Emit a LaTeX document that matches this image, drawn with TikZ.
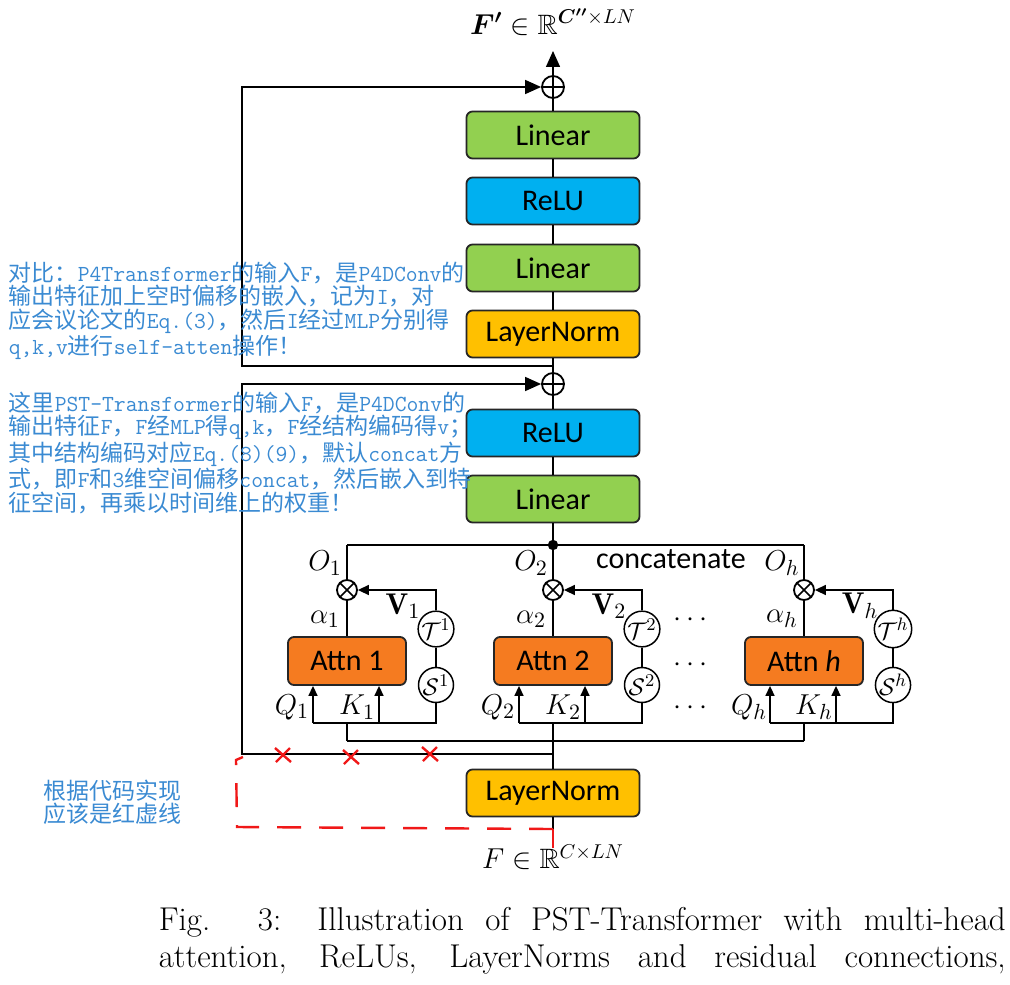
\documentclass[tikz,border=0pt]{standalone}
\usepackage{fontspec}
\usepackage{amsmath,amssymb,bm}
\usetikzlibrary{arrows.meta}
\newfontfamily\cjk{Noto Sans CJK SC}
\newfontfamily\boxfont{Carlito}
\newcommand\A[1]{{\ttfamily #1}}
\definecolor{lingreen}{HTML}{92D050}
\definecolor{relublue}{HTML}{00B0F0}
\definecolor{normyellow}{HTML}{FFC000}
\definecolor{attnorange}{HTML}{F57B20}
\definecolor{annblue}{HTML}{3A8AD2}
\definecolor{penred}{HTML}{F01818}
\tikzset{
  blk/.style={draw=black!85, line width=0.9pt, rounded corners=3pt, minimum width=86.5pt,
    minimum height=23.5pt, inner sep=0pt, font=\boxfont\fontsize{15}{18}\selectfont},
  attnbox/.style={blk, fill=attnorange, minimum width=59pt, minimum height=24pt},
  mathlbl/.style={inner sep=0pt, font=\fontsize{15}{17}\selectfont},
  iolbl/.style={inner sep=0pt, font=\fontsize{14}{16}\selectfont},
  addop/.style={circle, draw, line width=0.9pt, minimum size=11pt, inner sep=0pt},
  mult/.style={circle, draw, line width=0.9pt, minimum size=10pt, inner sep=0pt},
  enc/.style={circle, draw, fill=white, minimum size=17.5pt, inner sep=0pt, font=\fontsize{13}{15}\selectfont},
  bigarr/.style={-{Triangle[length=8pt,width=7pt]}},
  midarr/.style={-{Triangle[length=5.5pt,width=5pt]}},
  smallarr/.style={-{Triangle[length=5pt,width=4.5pt]}},
  note/.style={anchor=north west, inner sep=0pt, align=left, text=annblue,
    font=\cjk\fontsize{11.5}{11.75}\selectfont},
  redmark/.style={draw=penred, line width=1.2pt}
}
\begin{document}
\begin{tikzpicture}[x=0.5pt, y=-0.5pt, line width=0.75pt]
\useasboundingbox (0,0) rectangle (1010,984);

\node[iolbl] (out) at (553,22) {$\boldsymbol{F'} \in \mathbb{R}^{\boldsymbol{C''}\times LN}$};
\coordinate (outtip) at (553,51);
\node[addop] (addtop) at (553,87) {};
\draw (addtop.north) -- (addtop.south) (addtop.east) -- (addtop.west);
\node[blk, fill=lingreen] (lin1) at (553,135) {Linear};
\node[blk, fill=relublue] (relu1) at (553,201) {ReLU};
\node[blk, fill=lingreen] (lin2) at (553,268) {Linear};
\node[blk, fill=normyellow] (normtop) at (553,334) {LayerNorm};
\coordinate (split) at (553,366);
\node[addop] (addmid) at (553,384) {};
\draw (addmid.north) -- (addmid.south) (addmid.east) -- (addmid.west);
\node[blk, fill=relublue] (relu2) at (553,433) {ReLU};
\node[blk, fill=lingreen] (lin3) at (553,499) {Linear};
\coordinate (cat) at (553,545);
\coordinate (inbus) at (553,741);
\coordinate (resid) at (553,754);
\node[blk, fill=normyellow] (normbot) at (553,793) {LayerNorm};
\node[iolbl] (inp) at (553,857) {$F \in \mathbb{R}^{C\times LN}$};

\coordinate (lt) at (242,87);
\coordinate (lsplit) at (242,366);
\coordinate (lm) at (242,384);
\coordinate (lb) at (242,754);

\draw[bigarr] (addtop.north) -- (outtip);
\draw (lin1.north) -- (addtop.south);
\draw (relu1.north) -- (lin1.south);
\draw (lin2.north) -- (relu1.south);
\draw (normtop.north) -- (lin2.south);
\draw (addmid.north) -- (normtop.south);
\draw (relu2.north) -- (addmid.south);
\draw (lin3.north) -- (relu2.south);
\draw (cat) -- (lin3.south);
\draw (normbot.north) -- (inbus);
\draw (normbot.south) -- (inp.north);
\draw[bigarr] (split) -- (lsplit) -- (lt) -- (addtop.west);
\draw[bigarr] (resid) -- (lb) -- (lm) -- (addmid.west);

\foreach \x/\i/\lab in {347/1/1, 553/2/2, 804/h/\textit{h}} {
  \node[mult] (mult\i) at (\x,590) {};
  \draw (mult\i.north east) -- (mult\i.south west) (mult\i.north west) -- (mult\i.south east);
  \node[attnbox] (attn\i) at (\x,661) {Attn \lab};
  \node[enc] (tt\i) at (\x+89,629) {$\mathcal{T}^{\i}$};
  \node[enc] (ss\i) at (\x+89,685) {$\mathcal{S}^{\i}$};
  \coordinate (q\i) at (\x-34,723);
  \coordinate (k\i) at (\x+32,723);
  \coordinate (hb\i) at (\x,723);
  \node[mathlbl] (o\i) at (\x-22,563) {$O_{\i}$};
  \node[mathlbl] (al\i) at (\x-22,619) {$\alpha_{\i}$};
  \node[mathlbl] (v\i) at (\x+56,606) {$\mathbf{V}_{\i}$};
  \node[mathlbl] (ql\i) at (\x-55,707) {$Q_{\i}$};
  \node[mathlbl] (kl\i) at (\x+10,707) {$K_{\i}$};
  \draw (q\i) -- (q\i -| ss\i) -- (ss\i.south);
  \draw[smallarr] (q\i) -- (q\i |- attn\i.south);
  \draw[smallarr] (k\i) -- (k\i |- attn\i.south);
  \draw (ss\i) -- (tt\i);
  \draw[midarr] (tt\i.north) |- (mult\i.east);
  \draw (attn\i.north -| mult\i) -- (mult\i.south);
  \draw (mult\i.north) -- (mult\i |- cat);
  \draw (hb\i) -- (hb\i |- inbus);
}
\draw (mult1 |- cat) -- (multh |- cat);
\fill (cat) circle (2.6pt);
\draw (hb1 |- inbus) -- (hbh |- inbus);

\node[font=\boxfont\fontsize{15}{18}\selectfont] (concat) at (671,559) {concatenate};
\node[mathlbl] (dots1) at (693,620) {$\cdots$};
\node[mathlbl] (dots2) at (693,665) {$\cdots$};
\node[mathlbl] (dots3) at (693,708) {$\cdots$};

\node[note] (note1) at (8,261) {%
对比：\A{P4Transformer}的输入\A{F}，是\A{P4DConv}的\\%
输出特征加上空时偏移的嵌入，记为\A{I}，对\\%
应会议论文的\A{Eq.(3)}，然后\A{I}经过\A{MLP}分别得\\%
\A{q,k,v}进行\A{self-atten}操作！};
\node[note] (note2) at (8,391) {%
这里\A{PST-Transformer}的输入\A{F}，是\A{P4DConv}的\\%
输出特征\A{F}，\A{F}经\A{MLP}得\A{q,k}，\A{F}经结构编码得\A{v}；\\%
其中结构编码对应\A{Eq.(8)(9)}，默认\A{concat}方\\%
式，即\A{F}和\A{3}维空间偏移\A{concat}，然后嵌入到特\\%
征空间，再乘以时间维上的权重！};
\node[note] (note3) at (43,779) {根据代码实现\\应该是红虚线};

\draw[redmark] (553,848) -- (553,829);
\draw[redmark, dash pattern=on 12pt off 9pt] (553,829) -- (237,827) -- (236,760) -- (243,757);
\foreach \cx/\cy in {283/755, 351/757, 430/754}
  \draw[redmark] (\cx-8,\cy-7) -- (\cx+8,\cy+7) (\cx-7,\cy+7) -- (\cx+7,\cy-7);

\node[anchor=base west, inner sep=0pt, font=\fontsize{16.5}{19}\selectfont] (cap1) at (158,930)
  {\makebox[423.5pt][s]{Fig. 3: Illustration of PST-Transformer with multi-head}};
\node[anchor=base west, inner sep=0pt, font=\fontsize{16.5}{19}\selectfont] (cap2) at (158,967)
  {\makebox[423.5pt][s]{attention, ReLUs, LayerNorms and residual connections,}};
\end{tikzpicture}
\end{document}
